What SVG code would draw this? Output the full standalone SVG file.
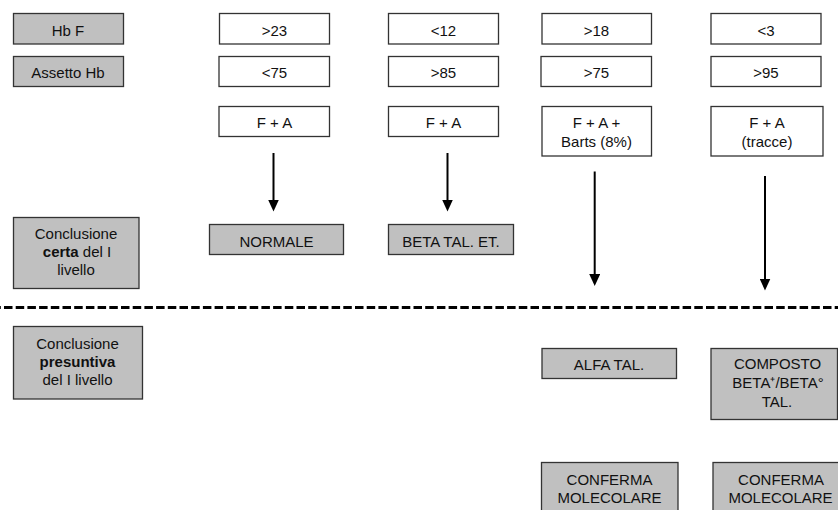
<svg xmlns="http://www.w3.org/2000/svg" width="838" height="510" viewBox="0 0 838 510">
<style>
  .g { fill: #c0c0c0; stroke: #333; stroke-width: 1.3; }
  .w { fill: #fff; stroke: #333; stroke-width: 1.3; }
  text { font-family: "Liberation Sans", Arial, sans-serif; font-size: 15px; fill: #111; text-anchor: middle; }
  .b { font-weight: bold; }
  .arr { stroke: #000; stroke-width: 2; fill: none; marker-end: url(#ah); }
</style>
<defs>
  <marker id="ah" viewBox="0 0 12 11" markerWidth="12" markerHeight="11" refX="0.5" refY="5.5" orient="auto" markerUnits="userSpaceOnUse">
    <path d="M0,0 L12,5.5 L0,11 z" fill="#000"/>
  </marker>
</defs>
<rect width="838" height="510" fill="#fff"/>

<g id="hbf-label"><rect class="g" x="13.5" y="13.5" width="110" height="30.5"/><text x="68" y="36">Hb F</text></g>
<g id="assetto-label"><rect class="g" x="13.5" y="56.5" width="110" height="30"/><text x="68" y="77.5">Assetto Hb</text></g>

<g id="c1-hbf"><rect class="w" x="219.5" y="13.5" width="110" height="30.5"/><text x="274.5" y="36">&gt;23</text></g>
<g id="c1-ass"><rect class="w" x="219" y="56.5" width="110.5" height="30"/><text x="274.5" y="77.5">&lt;75</text></g>
<g id="c1-pat"><rect class="w" x="219" y="106.5" width="110.5" height="30"/><text x="274.5" y="128.3">F + A</text></g>

<g id="c2-hbf"><rect class="w" x="388.5" y="13.5" width="110" height="30.5"/><text x="443.5" y="36">&lt;12</text></g>
<g id="c2-ass"><rect class="w" x="388.5" y="56.5" width="110" height="30"/><text x="443.5" y="77.5">&gt;85</text></g>
<g id="c2-pat"><rect class="w" x="388.5" y="106.5" width="110" height="30"/><text x="443.5" y="128.3">F + A</text></g>

<g id="c3-hbf"><rect class="w" x="542" y="13.5" width="109.5" height="30.5"/><text x="596.5" y="36">&gt;18</text></g>
<g id="c3-ass"><rect class="w" x="541" y="56.5" width="110.5" height="30"/><text x="596.5" y="77.5">&gt;75</text></g>
<g id="c3-pat"><rect class="w" x="542" y="106.5" width="109.5" height="49.5"/><text x="596.5" y="128.3">F + A +</text><text x="596.5" y="146.5">Barts (8%)</text></g>

<g id="c4-hbf"><rect class="w" x="711" y="13.5" width="110" height="30.5"/><text x="766" y="36">&lt;3</text></g>
<g id="c4-ass"><rect class="w" x="711" y="56.5" width="110" height="30"/><text x="766" y="77.5">&gt;95</text></g>
<g id="c4-pat"><rect class="w" x="711" y="106.5" width="112" height="49.5"/><text x="767" y="128.3">F + A</text><text x="767" y="146.5">(tracce)</text></g>

<g id="certa-label"><rect class="g" x="13.5" y="217.5" width="125.5" height="71"/>
  <text x="76" y="238.5">Conclusione</text>
  <text x="77" y="256.7"><tspan class="b">certa</tspan> del I</text>
  <text x="76" y="275">livello</text></g>

<g id="normale"><rect class="g" x="209.5" y="224.5" width="134" height="30"/><text x="276.5" y="246.5">NORMALE</text></g>
<g id="beta-et"><rect class="g" x="388.5" y="224.5" width="125" height="30"/><text x="451" y="246.5">BETA TAL. ET.</text></g>

<g id="presuntiva-label"><rect class="g" x="13.5" y="326.5" width="129" height="72.5"/>
  <text x="77.5" y="349">Conclusione</text>
  <text x="77.5" y="367" class="b">presuntiva</text>
  <text x="77.5" y="385">del I livello</text></g>

<g id="alfa"><rect class="g" x="542" y="348.5" width="134.5" height="30"/><text x="609" y="370">ALFA TAL.</text></g>
<g id="composto"><rect class="g" x="711" y="348.5" width="126.5" height="71"/>
  <text x="777.5" y="369.3">COMPOSTO</text>
  <text x="778" y="388.3">BETA⁺/BETA°</text>
  <text x="777" y="407.3">TAL.</text></g>

<g id="conferma1"><rect class="g" x="541.5" y="462.5" width="136.5" height="60"/><text x="609.5" y="485">CONFERMA</text><text x="609.5" y="503.3">MOLECOLARE</text></g>
<g id="conferma2"><rect class="g" x="713" y="462.5" width="140" height="60"/><text x="781" y="485">CONFERMA</text><text x="780.5" y="503.3">MOLECOLARE</text></g>

<g id="connectors">
  <line x1="0" y1="307.5" x2="838" y2="307.5" stroke="#000" stroke-width="3" stroke-dasharray="8.5 3.2" stroke-dashoffset="-4"/>
  <path class="arr" d="M273.5,153 V200"/>
  <path class="arr" d="M447.5,153 V200"/>
  <path class="arr" d="M594.7,171.5 V274.5"/>
  <path class="arr" d="M765,176 V279"/>
</g>
</svg>
